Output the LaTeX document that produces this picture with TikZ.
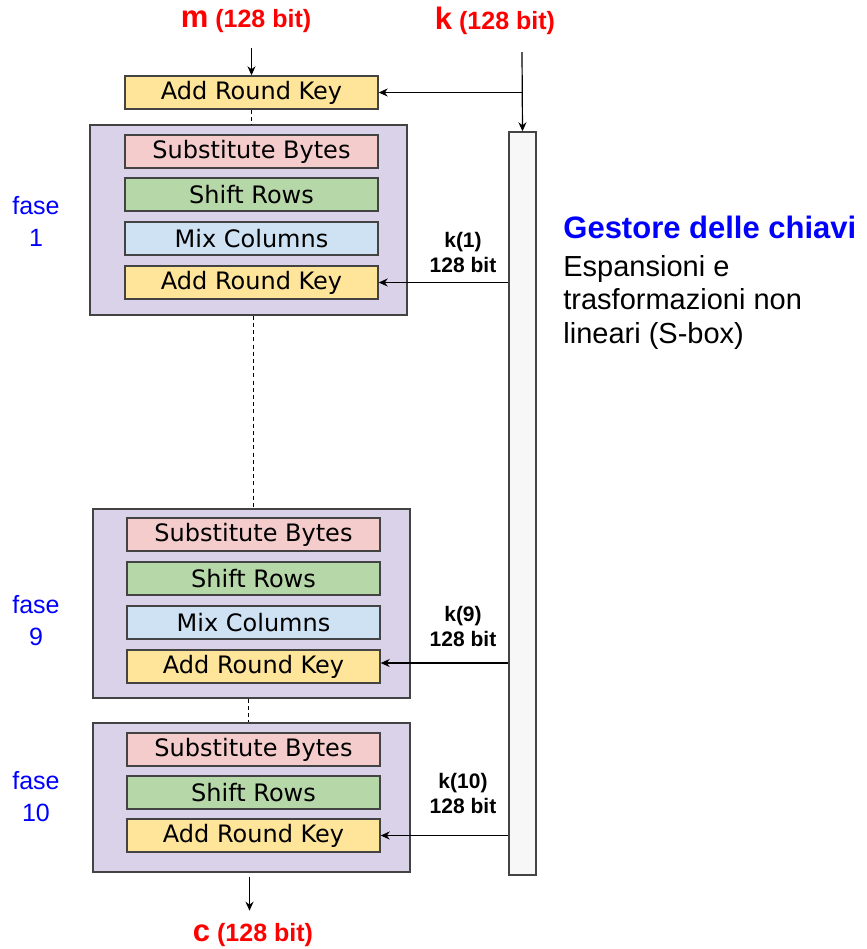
\documentclass[tikz,border=0pt]{standalone}
\usepackage{fontspec}
\setmainfont{Liberation Sans}
\newfontfamily\stepfont{DejaVu Sans}
\usetikzlibrary{positioning,arrows.meta,calc}
\definecolor{fasefill}{HTML}{D9D2E9}
\definecolor{sbfill}{HTML}{F4CCCC}
\definecolor{srfill}{HTML}{B6D7A8}
\definecolor{mcfill}{HTML}{CFE2F3}
\definecolor{arkfill}{HTML}{FFE599}
\definecolor{bordo}{HTML}{434343}
\definecolor{rosso}{HTML}{FF0000}
\definecolor{blu}{HTML}{0000FF}
\tikzset{
  fasebox/.style={draw=bordo, fill=fasefill, line width=0.7pt, minimum width=158.5pt, inner sep=0pt},
  opbox/.style={draw=bordo, line width=0.7pt, minimum width=126.5pt, minimum height=16.5pt, inner sep=0pt, font=\stepfont\fontsize{12}{14}\selectfont},
  sb/.style={opbox, fill=sbfill},
  sr/.style={opbox, fill=srfill},
  mc/.style={opbox, fill=mcfill},
  ark/.style={opbox, fill=arkfill},
  keycolumn/.style={draw=bordo, fill=black!3, line width=0.7pt, minimum width=13.5pt, minimum height=371.5pt, inner sep=0pt},
  io/.style={text=rosso, font=\bfseries\fontsize{12.5}{14}\selectfont},
  kl/.style={align=center, font=\bfseries\fontsize{10.5}{12.5}\selectfont},
  fl/.style={align=center, text=blu, font=\fontsize{12.5}{16}\selectfont},
  fr/.style={-{Stealth[length=4.5pt,width=4pt]}, line width=0.6pt},
  dl/.style={dash pattern=on 2pt off 1.6pt, line width=0.7pt},
}
\begin{document}
\begin{tikzpicture}[x=0.5pt, y=-0.5pt]
\useasboundingbox (0,0) rectangle (867,949);
% ingressi
\node[io] (m) at (246,21) {{\fontsize{15.5}{15}\selectfont m} (128 bit)};
\node[io] (k) at (495,21) {{\fontsize{15.5}{15}\selectfont k} (128 bit)};
\coordinate (kin) at (522,52);
\node[ark] (ark0) at (251.5,92.5) {Add Round Key};
% gestore delle chiavi
\node[keycolumn] (keycol) at (522.5,503.5) {};
% fase 1
\node[fasebox, minimum height=95pt] (f1) at (248.5,220) {};
\node[sb] (sb1) at (251.5,151.5) {Substitute Bytes};
\node[sr] (sr1) at (251.5,194.5) {Shift Rows};
\node[mc] (mc1) at (251.5,238.5) {Mix Columns};
\node[ark] (ark1) at (251.5,282.5) {Add Round Key};
% fase 9
\node[fasebox, minimum height=94.5pt] (f9) at (251.5,603.5) {};
\node[sb] (sb9) at (253.5,534.5) {Substitute Bytes};
\node[sr] (sr9) at (253.5,578.5) {Shift Rows};
\node[mc] (mc9) at (253.5,622.5) {Mix Columns};
\node[ark] (ark9) at (253.5,666.5) {Add Round Key};
% fase 10
\node[fasebox, minimum height=74.5pt] (f10) at (251.5,797.5) {};
\node[sb] (sb10) at (253.5,749.5) {Substitute Bytes};
\node[sr] (sr10) at (253.5,792.5) {Shift Rows};
\node[ark] (ark10) at (253.5,835.5) {Add Round Key};
% uscita
\node[io] (c) at (253,935) {{\fontsize{15.5}{15}\selectfont c} (128 bit)};
% etichette
\node[fl] (fase1) at (36,221) {fase\\1};
\node[fl] (fase9) at (36,621) {fase\\9};
\node[fl] (fase10) at (36,797) {fase\\10};
\node[kl] (k1) at (463,252) {k(1)\\128 bit};
\node[kl] (k9) at (463,626) {k(9)\\128 bit};
\node[kl] (k10) at (463,793) {k(10)\\128 bit};
\node[anchor=west, inner sep=0pt, text=blu, font=\bfseries\fontsize{15.5}{18}\selectfont] (gest) at (563,227) {Gestore delle chiavi};
\node[anchor=north west, inner sep=0pt, align=left, font=\fontsize{14.5}{16.75}\selectfont] (gdesc) at (563,255) {Espansioni e\\trasformazioni non\\lineari (S-box)};
% connessioni
\draw[fr] (ark0.north |- 0,48) -- (ark0.north);
\draw[fr] (kin) -- (keycol.north);
\draw[fr] (kin |- ark0.east) -- (ark0.east);
\draw[dl] (ark0.south) -- (ark0.south |- f1.north);
\draw[dl] ($(f1.south)+(5,0)$) -- ($(f9.north)+(2,0)$);
\draw[dl] ($(f9.south)+(-3,0)$) -- ($(f10.north)+(-3,0)$);
\draw[fr] (keycol.west |- ark1.east) -- (ark1.east);
\draw[fr] (keycol.west |- 0,663) -- (ark9.east |- 0,663);
\draw[fr] (keycol.west |- ark10.east) -- (ark10.east);
\draw[fr] ($(f10.south)+(-2,4)$) -- ($(f10.south)+(-2,38)$);
\end{tikzpicture}
\end{document}
